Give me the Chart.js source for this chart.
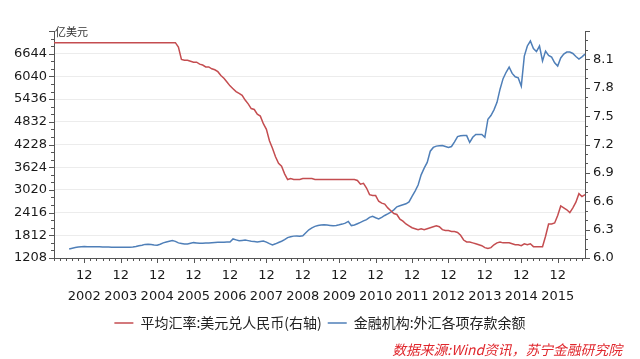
<!DOCTYPE html>
<html><head><meta charset="utf-8">
<script src="https://cdn.jsdelivr.net/npm/chart.js@4/dist/chart.umd.min.js"></script>
<style>html,body{margin:0;padding:0;background:#fff}</style>
</head><body>
<canvas id="c" width="640" height="359"></canvas>
<script>
// ---- data ----
const startYear = 2002, startMonth = 2;           // first category: Feb 2002
const endYear = 2016, endMonth = 9;               // last category: Sep 2016
const yearTickLabels = ['2002','2003','2004','2005','2006','2007','2008','2009','2010','2011','2012','2013','2014','2015'];
const monthTickLabel = '12';
const leftTickValues = [1208,1812,2416,3020,3624,4228,4832,5436,6040,6644];
const rightTickValues = [6.0,6.3,6.6,6.9,7.2,7.5,7.8,8.1];
const leftMin = 1208, leftMax = 7248, leftStep = 604;
const rightMin = 6.0, rightMax = 8.4, rightStep = 0.3;

const seriesNames = ['平均汇率:美元兑人民币(右轴)', '金融机构:外汇各项存款余额'];

// USD/CNY monthly average (right axis)
const rateValues = [
  8.277,8.277,8.277,8.277,8.277,8.277,8.277,8.277,8.277,8.277,8.277,            // 2002 Feb-Dec
  8.277,8.277,8.277,8.277,8.277,8.277,8.277,8.277,8.277,8.277,8.277,8.277,      // 2003
  8.277,8.277,8.277,8.277,8.277,8.277,8.277,8.277,8.277,8.277,8.277,8.277,      // 2004
  8.277,8.277,8.277,8.277,8.277,8.277,8.23,8.10,8.09,8.09,8.08,8.07,            // 2005
  8.07,8.05,8.04,8.02,8.02,8.00,7.99,7.97,7.93,7.90,7.86,7.82,                  // 2006
  7.79,7.76,7.74,7.72,7.67,7.63,7.58,7.57,7.52,7.50,7.42,7.36,                  // 2007
  7.24,7.16,7.07,7.00,6.97,6.89,6.83,6.84,6.83,6.83,6.83,6.84,                  // 2008
  6.84,6.84,6.84,6.83,6.83,6.83,6.83,6.83,6.83,6.83,6.83,6.83,                  // 2009
  6.83,6.83,6.83,6.83,6.83,6.82,6.78,6.79,6.74,6.67,6.66,6.66,                  // 2010
  6.60,6.58,6.57,6.53,6.50,6.47,6.46,6.41,6.39,6.36,6.34,6.32,                  // 2011
  6.31,6.30,6.31,6.30,6.31,6.32,6.33,6.34,6.33,6.30,6.29,6.29,                  // 2012
  6.28,6.28,6.27,6.24,6.19,6.17,6.17,6.16,6.15,6.14,6.13,6.11,                  // 2013
  6.10,6.11,6.14,6.16,6.17,6.16,6.16,6.16,6.15,6.14,6.14,6.13,                  // 2014
  6.15,6.14,6.15,6.12,6.12,6.12,6.12,6.23,6.36,6.36,6.37,6.45,                  // 2015
  6.55,6.53,6.51,6.48,6.53,6.59,6.68,6.65,6.67                                  // 2016 Jan-Sep
];

// FX deposits of financial institutions, 亿美元 (left axis)
const depositValues = [
  null,null,null,null,null,1448,1468,1488,1500,1510,1512,                       // 2002 Feb-Dec
  1510,1510,1510,1510,1510,1500,1500,1500,1495,1495,1495,1497,                  // 2003
  1497,1495,1495,1498,1515,1535,1550,1570,1575,1565,1555,1548,                  // 2004
  1575,1610,1635,1655,1670,1650,1610,1595,1580,1578,1600,1617,                  // 2005
  1610,1600,1603,1606,1610,1615,1620,1625,1628,1630,1633,1636,                  // 2006
  1715,1690,1665,1675,1685,1670,1655,1645,1636,1650,1660,1630,                  // 2007
  1590,1558,1585,1620,1655,1695,1750,1775,1790,1796,1788,1800,                  // 2008
  1880,1960,2010,2050,2070,2085,2090,2085,2075,2065,2075,2090,                  // 2009
  2110,2135,2180,2070,2085,2120,2155,2195,2230,2290,2315,2280,                  // 2010
  2250,2290,2340,2380,2430,2490,2571,2600,2625,2651,2700,2850,                  // 2011
  2990,3150,3420,3600,3750,4050,4150,4185,4195,4200,4175,4150,                  // 2012
  4175,4300,4440,4460,4470,4465,4282,4420,4496,4496,4495,4420,                  // 2013
  4900,5000,5150,5350,5700,5980,6150,6287,6120,6030,6000,5780,                  // 2014
  6581,6850,6982,6780,6700,6848,6450,6714,6600,6554,6400,6314,                  // 2015
  6530,6634,6688,6690,6650,6570,6500,6560,6634                                  // 2016 Jan-Sep
];

// ---- categories (year, month) ----
const catYear = [], catMonth = [], categories = [];
for (let y = startYear, m = startMonth; y < endYear || (y === endYear && m <= endMonth); ) {
  catYear.push(y); catMonth.push(m); categories.push(y + '-' + (m < 10 ? '0' : '') + m);
  m++; if (m > 12) { m = 1; y++; }
}

const axisColor = '#555555';
const tickFont = { family: '"DejaVu Sans", sans-serif', size: 13 };

const decoPlugin = {
  id: 'deco',
  afterDraw(chart) {
    const ctx = chart.ctx, a = chart.chartArea;
    const yl = chart.scales.yL, yr = chart.scales.yR, xs = chart.scales.x;
    ctx.save();
    ctx.strokeStyle = axisColor; ctx.lineWidth = 1;
    ctx.beginPath();
    // left axis ticks (major + 2 minor)
    const nL = Math.round((leftMax - leftMin) / leftStep) * 3;
    for (let k = 0; k <= nL; k++) {
      const v = leftMin + k * leftStep / 3;
      const p = Math.round(yl.getPixelForValue(v)) + 0.5;
      const len = (k % 3 === 0) ? 5 : 3;
      ctx.moveTo(a.left - len, p); ctx.lineTo(a.left, p);
    }
    // right axis ticks (major + 2 minor)
    const nR = Math.round((rightMax - rightMin) / rightStep) * 3;
    for (let k = 0; k <= nR; k++) {
      const v = rightMin + k * rightStep / 3;
      const p = Math.round(yr.getPixelForValue(v)) + 0.5;
      const len = (k % 3 === 0) ? 5 : 3;
      ctx.moveTo(a.right, p); ctx.lineTo(a.right + len, p);
    }
    // x axis ticks
    for (let i = 0; i < categories.length; i++) {
      const m = catMonth[i];
      if (m % 2 !== 0) continue;
      const p = Math.round(xs.getPixelForValue(i)) + 0.5;
      const len = (m === 12) ? 5 : 3;
      ctx.moveTo(p, a.bottom); ctx.lineTo(p, a.bottom + len);
    }
    ctx.stroke();
    // unit label
    ctx.fillStyle = '#333';
    ctx.font = '11px "Noto Sans CJK SC"';
    ctx.textBaseline = 'middle'; ctx.textAlign = 'left';
    ctx.fillText('亿美元', a.left + 1, a.top + 1);
    // source
    ctx.fillStyle = '#e0262c';
    ctx.font = 'italic 13.8px "Noto Sans CJK SC"';
    ctx.textAlign = 'right';
    ctx.fillText('数据来源:Wind资讯，苏宁金融研究院', 622, 350);
    ctx.restore();
  }
};

new Chart(document.getElementById('c'), {
  type: 'line',
  data: {
    labels: categories,
    datasets: [
      { label: seriesNames[0], data: rateValues, yAxisID: 'yR', borderColor: '#c44d50', backgroundColor: '#c44d50',
        borderWidth: 1.5, pointRadius: 0, tension: 0, spanGaps: false },
      { label: seriesNames[1], data: depositValues, yAxisID: 'yL', borderColor: '#4f7fb8', backgroundColor: '#4f7fb8',
        borderWidth: 1.5, pointRadius: 0, tension: 0, spanGaps: false }
    ]
  },
  options: {
    responsive: false, animation: false,
    layout: { padding: { top: 31, left: 0, right: 0, bottom: 19 } },
    plugins: {
      tooltip: { enabled: false },
      legend: {
        position: 'bottom',
        labels: {
          usePointStyle: true, pointStyle: 'line', pointStyleWidth: 19,
          font: { family: '"Noto Sans CJK SC"', size: 14 }, color: '#222', padding: 6, boxHeight: 14
        }
      }
    },
    scales: {
      x: {
        type: 'category', offset: false,
        grid: { drawOnChartArea: false, drawTicks: false },
        border: { color: axisColor },
        ticks: {
          autoSkip: false, maxRotation: 0, minRotation: 0, padding: 8, color: '#1a1a1a',
          font: { family: '"DejaVu Sans", sans-serif', size: 13, lineHeight: 1.55 },
          callback: (v, i) => catMonth[i] === 12 ? [monthTickLabel, yearTickLabels[yearTickLabels.indexOf(String(catYear[i]))]] : ''
        },
        afterFit: s => { s.height = 52; }
      },
      yL: {
        position: 'left', min: leftMin, max: leftMax,
        afterBuildTicks: s => { s.ticks = leftTickValues.concat([leftMax]).map(v => ({ value: v })); },
        grid: { drawTicks: false, color: c => (c.tick && c.tick.value === leftMax) ? 'rgba(0,0,0,0)' : '#ececec' },
        border: { color: axisColor },
        ticks: { padding: 7, color: '#1a1a1a', font: tickFont,
          callback: v => leftTickValues.includes(v) ? String(v) : '' },
        afterFit: s => { s.width = 54; }
      },
      yR: {
        position: 'right', min: rightMin, max: rightMax,
        afterBuildTicks: s => { s.ticks = rightTickValues.concat([rightMax]).map(v => ({ value: v })); },
        grid: { drawOnChartArea: false, drawTicks: false },
        border: { color: axisColor },
        ticks: { padding: 8, color: '#1a1a1a', font: tickFont,
          callback: v => rightTickValues.some(t => Math.abs(t - v) < 1e-6) ? v.toFixed(1) : '' },
        afterFit: s => { s.width = 55; }
      }
    }
  },
  plugins: [decoPlugin]
});
</script>
</body></html>
